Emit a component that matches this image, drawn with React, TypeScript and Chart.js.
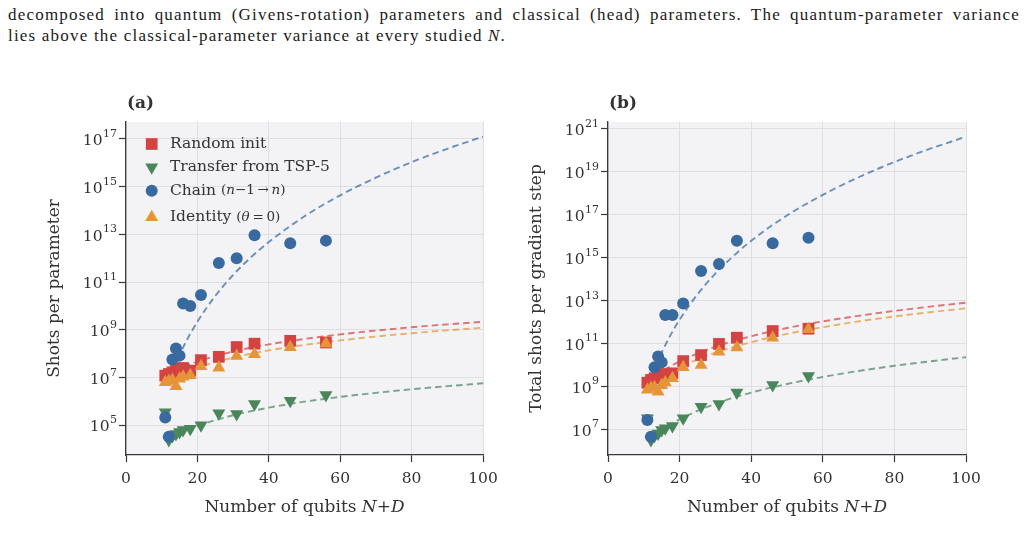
import React, { useEffect, useRef } from 'react';
import { Chart, registerables } from 'chart.js';

Chart.register(...registerables);

// Problem sizes (number of qubits N+D) for every measured configuration
const qubits = [11, 12, 13, 14, 15, 16, 18, 21, 26, 31, 36, 46, 56];

// (a) shots per parameter, stored as log10 values
const randomShotsA = [7.08, 7.15, 7.22, 7.30, 7.38, 7.40, 7.29, 7.73, 7.87, 8.28, 8.42, 8.54, 8.47];
const transferShotsA = [5.55, 4.38, 4.55, 4.63, 4.72, 4.80, 4.86, 5.00, 5.50, 5.47, 5.89, 6.03, 6.27];
const chainShotsA = [5.33, 4.52, 7.76, 8.22, 7.92, 10.10, 10.00, 10.46, 11.80, 12.00, 12.97, 12.63, 12.74];
const identityShotsA = [6.80, 6.86, 6.90, 6.64, 6.95, 7.03, 7.10, 7.48, 7.41, 7.90, 7.98, 8.27, 8.43];

// (b) total shots per gradient step, stored as log10 values
const randomShotsB = [9.17, 9.30, 9.38, 9.45, 9.49, 9.58, 9.61, 10.18, 10.46, 10.98, 11.27, 11.58, 11.69];
const transferShotsB = [7.51, 6.50, 6.70, 6.81, 6.97, 7.05, 7.15, 7.51, 8.05, 8.18, 8.72, 9.07, 9.49];
const chainShotsB = [7.43, 6.65, 9.89, 10.39, 10.12, 12.33, 12.33, 12.87, 14.38, 14.71, 15.79, 15.67, 15.93];
const identityShotsB = [8.84, 8.92, 8.96, 8.75, 9.05, 9.18, 9.38, 9.89, 10.00, 10.62, 10.81, 11.27, 11.66];

// Power-law fit curves (log10), sampled along N+D
const chainFitX = [14.5, 17, 20, 25, 30, 35, 40, 50, 60, 70, 80, 90, 100];
const chainFitA = [7.79, 8.56, 9.34, 10.42, 11.30, 12.04, 12.68, 13.76, 14.64, 15.38, 16.03, 16.59, 17.10];
const chainFitB = [10.41, 11.25, 12.11, 13.29, 14.26, 15.07, 15.79, 16.97, 17.93, 18.75, 19.46, 20.08, 20.64];

const baseFitX = [11, 15, 20, 30, 40, 50, 60, 70, 80, 90, 100];
const randomFitA = [7.05, 7.37, 7.67, 8.09, 8.39, 8.62, 8.81, 8.97, 9.11, 9.23, 9.34];
const identityFitA = [6.80, 7.12, 7.42, 7.84, 8.14, 8.37, 8.56, 8.72, 8.86, 8.98, 9.09];
const randomFitB = [9.15, 9.68, 10.16, 10.85, 11.34, 11.72, 12.03, 12.29, 12.52, 12.72, 12.90];
const identityFitB = [8.85, 9.38, 9.87, 10.57, 11.06, 11.45, 11.76, 12.03, 12.26, 12.46, 12.64];

const transferFitX = [12, 15, 20, 30, 40, 50, 60, 70, 80, 90, 100];
const transferFitA = [4.41, 4.65, 4.97, 5.42, 5.74, 5.99, 6.19, 6.36, 6.51, 6.64, 6.76];
const transferFitB = [6.55, 6.95, 7.46, 8.19, 8.71, 9.11, 9.44, 9.72, 9.96, 10.17, 10.36];

// Axis ticks
const xTicks = [0, 20, 40, 60, 80, 100];
const yExponentsA = [5, 7, 9, 11, 13, 15, 17];
const yExponentsB = [7, 9, 11, 13, 15, 17, 19, 21];

const FONT = "'DejaVu Serif', serif";
const TEXT = '#333333';
const SPINE = '#3a3a3a';
const GRID = '#dedee3';
const PANEL_BG = '#f3f3f6';

const RED = 'rgb(212,67,66)';
const GREEN = 'rgb(74,134,92)';
const BLUE = 'rgb(56,106,160)';
const ORANGE = 'rgb(229,149,56)';
const RED_FIT = 'rgba(212,67,66,0.72)';
const GREEN_FIT = 'rgba(74,134,92,0.72)';
const BLUE_FIT = 'rgba(56,106,160,0.72)';
const ORANGE_FIT = 'rgba(229,149,56,0.72)';

type Run = { text: string; font: string };

function drawRuns(ctx: CanvasRenderingContext2D, runs: Run[], x: number, y: number, align: 'left' | 'center') {
  const widths = runs.map((r) => {
    ctx.font = r.font;
    return ctx.measureText(r.text).width;
  });
  const total = widths.reduce((a, b) => a + b, 0);
  let cx = align === 'center' ? x - total / 2 : x;
  ctx.textAlign = 'left';
  runs.forEach((r, i) => {
    ctx.font = r.font;
    ctx.fillText(r.text, cx, y);
    cx += widths[i];
  });
}

function drawMarker(ctx: CanvasRenderingContext2D, kind: string, x: number, y: number, color: string) {
  ctx.fillStyle = color;
  ctx.beginPath();
  if (kind === 'rect') {
    const s = 5.85;
    ctx.rect(x - s, y - s, 2 * s, 2 * s);
  } else if (kind === 'circle') {
    ctx.arc(x, y, 6, 0, Math.PI * 2);
  } else if (kind === 'up') {
    const r = 7.5;
    ctx.moveTo(x, y - r);
    ctx.lineTo(x + r * 0.866, y + r / 2);
    ctx.lineTo(x - r * 0.866, y + r / 2);
    ctx.closePath();
  } else if (kind === 'down') {
    const r = 7.5;
    ctx.moveTo(x, y + r);
    ctx.lineTo(x + r * 0.866, y - r / 2);
    ctx.lineTo(x - r * 0.866, y - r / 2);
    ctx.closePath();
  }
  ctx.fill();
}

type PanelProps = {
  left: number;
  label: string;
  yTitle: string;
  yExponents: number[];
  yRange: [number, number];
  padRight: number;
  random: number[];
  transfer: number[];
  chain: number[];
  identity: number[];
  randomFit: number[];
  transferFit: number[];
  chainFit: number[];
  identityFit: number[];
  legend: boolean;
};

function Panel(p: PanelProps) {
  const ref = useRef<HTMLCanvasElement>(null);

  useEffect(() => {
    const canvas = ref.current;
    if (!canvas) return;

    const pts = (xs: number[], logs: number[]) => xs.map((x, i) => ({ x, y: Math.pow(10, logs[i]) }));

    const scatter = (data: number[], color: string, style: string, radius: number, rotation: number, order: number) => ({
      label: '',
      data: pts(qubits, data),
      showLine: false,
      pointStyle: style,
      pointRadius: radius,
      pointRotation: rotation,
      pointBackgroundColor: color,
      pointBorderColor: color,
      pointBorderWidth: 0,
      order,
    });

    const fit = (xs: number[], data: number[], color: string, order: number) => ({
      label: '',
      data: pts(xs, data),
      showLine: true,
      borderColor: color,
      borderWidth: 1.9,
      borderDash: [6.5, 4],
      pointRadius: 0,
      tension: 0.4,
      cubicInterpolationMode: 'monotone',
      fill: false,
      order,
    });

    const textPlugin = {
      id: 'panelText',
      beforeDraw(chart: any) {
        const { ctx, chartArea: a } = chart;
        ctx.save();
        ctx.fillStyle = PANEL_BG;
        ctx.fillRect(a.left, a.top, a.right - a.left, a.bottom - a.top);
        ctx.restore();
      },
      afterDraw(chart: any) {
        const { ctx, chartArea: a } = chart;
        const yScale = chart.scales.y;
        ctx.save();
        ctx.fillStyle = TEXT;

        // panel label
        ctx.textBaseline = 'middle';
        ctx.font = `bold 17px ${FONT}`;
        ctx.textAlign = 'left';
        ctx.fillText(p.label, a.left + 1, a.top - 18.5);

        // y tick labels as 10 with a raised exponent
        ctx.textBaseline = 'alphabetic';
        p.yExponents.forEach((e) => {
          const y = yScale.getPixelForValue(Math.pow(10, e));
          const base = '10';
          const exp = String(e);
          ctx.font = `15.5px ${FONT}`;
          const w1 = ctx.measureText(base).width;
          ctx.font = `11px ${FONT}`;
          const w2 = ctx.measureText(exp).width;
          const right = a.left - 9.5;
          const x0 = right - w1 - w2;
          ctx.font = `15.5px ${FONT}`;
          ctx.fillText(base, x0, y + 6.2);
          ctx.font = `11px ${FONT}`;
          ctx.fillText(exp, x0 + w1 + 0.5, y - 2);
        });

        // x axis title
        ctx.textBaseline = 'alphabetic';
        drawRuns(
          ctx,
          [
            { text: 'Number of qubits ', font: `17px ${FONT}` },
            { text: 'N', font: `italic 17px ${FONT}` },
            { text: '+', font: `17px ${FONT}` },
            { text: 'D', font: `italic 17px ${FONT}` },
          ],
          (a.left + a.right) / 2,
          a.bottom + 56.5,
          'center'
        );

        // y axis title
        ctx.save();
        ctx.translate(a.left - 71, (a.top + a.bottom) / 2);
        ctx.rotate(-Math.PI / 2);
        ctx.textBaseline = 'middle';
        drawRuns(ctx, [{ text: p.yTitle, font: `17px ${FONT}` }], 0, 0, 'center');
        ctx.restore();

        // legend
        if (p.legend) {
          const mx = a.left + 25.7;
          const tx = a.left + 44;
          const big = `15.5px ${FONT}`;
          const small = `13.5px ${FONT}`;
          const smallIt = `italic 13.5px ${FONT}`;
          const rows: { kind: string; color: string; dy: number; runs: Run[] }[] = [
            { kind: 'rect', color: RED, dy: 22, runs: [{ text: 'Random init', font: big }] },
            { kind: 'down', color: GREEN, dy: 45.3, runs: [{ text: 'Transfer from TSP-5', font: big }] },
            {
              kind: 'circle',
              color: BLUE,
              dy: 68.7,
              runs: [
                { text: 'Chain ', font: big },
                { text: '(', font: small },
                { text: 'n', font: smallIt },
                { text: '\u22121\u2009\u2192\u2009', font: small },
                { text: 'n', font: smallIt },
                { text: ')', font: small },
              ],
            },
            {
              kind: 'up',
              color: ORANGE,
              dy: 95.3,
              runs: [
                { text: 'Identity ', font: big },
                { text: '(', font: small },
                { text: '\u03b8', font: smallIt },
                { text: '\u2009=\u20090)', font: small },
              ],
            },
          ];
          rows.forEach((r) => {
            const y = a.top + r.dy;
            drawMarker(ctx, r.kind, mx, y, r.color);
            ctx.fillStyle = TEXT;
            ctx.textBaseline = 'middle';
            drawRuns(ctx, r.runs, tx, y, 'left');
          });
        }
        ctx.restore();
      },
    };

    const chart = new Chart(canvas, {
      type: 'scatter',
      data: {
        datasets: [
          fit(baseFitX, p.randomFit, RED_FIT, 14),
          fit(transferFitX, p.transferFit, GREEN_FIT, 13),
          fit(chainFitX, p.chainFit, BLUE_FIT, 12),
          fit(baseFitX, p.identityFit, ORANGE_FIT, 11),
          scatter(p.random, RED, 'rect', 8.3, 0, 4),
          scatter(p.transfer, GREEN, 'triangle', 7.5, 180, 3),
          scatter(p.chain, BLUE, 'circle', 6, 0, 2),
          scatter(p.identity, ORANGE, 'triangle', 7.5, 0, 1),
        ] as any,
      },
      options: {
        animation: false,
        responsive: false,
        events: [],
        layout: { padding: { top: 37, right: p.padRight, bottom: 0, left: 0 } },
        plugins: {
          legend: { display: false },
          tooltip: { enabled: false },
          title: { display: false },
        },
        scales: {
          x: {
            type: 'linear',
            min: 0,
            max: 100,
            afterBuildTicks: (s: any) => {
              s.ticks = xTicks.map((v) => ({ value: v }));
            },
            afterFit: (s: any) => {
              s.height = 75;
            },
            grid: { color: GRID, lineWidth: 1, tickColor: SPINE, tickLength: 7, tickWidth: 1.2, drawTicks: true },
            border: { display: true, color: SPINE, width: 1.3 },
            ticks: { color: TEXT, font: { family: FONT, size: 15.5 }, padding: 8, maxRotation: 0, autoSkip: false },
          },
          y: {
            type: 'logarithmic',
            min: Math.pow(10, p.yRange[0]),
            max: Math.pow(10, p.yRange[1]),
            afterBuildTicks: (s: any) => {
              s.ticks = p.yExponents.map((e) => ({ value: Math.pow(10, e) }));
            },
            afterFit: (s: any) => {
              s.width = 96;
            },
            grid: { color: GRID, lineWidth: 1, tickColor: SPINE, tickLength: 7, tickWidth: 1.2, drawTicks: true },
            border: { display: true, color: SPINE, width: 1.3 },
            ticks: { display: false },
          },
        },
      } as any,
      plugins: [textPlugin],
    });

    return () => chart.destroy();
  }, []);

  return (
    <canvas
      ref={ref}
      width={480}
      height={445}
      style={{ position: 'absolute', left: p.left, top: 85, width: 480, height: 445 }}
    />
  );
}

export default function App() {
  return (
    <div
      style={{
        position: 'absolute',
        left: 0,
        top: 0,
        width: 1027,
        height: 559,
        background: '#ffffff',
        overflow: 'hidden',
      }}
    >
      <div
        style={{
          position: 'absolute',
          left: 8,
          top: 4,
          width: 1012,
          fontFamily: "'Liberation Serif', serif",
          fontSize: 17,
          lineHeight: '21px',
          letterSpacing: '1.2px',
          color: '#1a1a1a',
        }}
      >
        <div style={{ textAlign: 'justify', textAlignLast: 'justify' }}>
          decomposed into quantum (Givens-rotation) parameters and classical (head) parameters. The quantum-parameter variance
        </div>
        <div>
          lies above the classical-parameter variance at every studied <i>N</i>.
        </div>
      </div>
      <Panel
        left={30}
        label="(a)"
        yTitle="Shots per parameter"
        yExponents={yExponentsA}
        yRange={[3.755, 17.712]}
        padRight={27}
        random={randomShotsA}
        transfer={transferShotsA}
        chain={chainShotsA}
        identity={identityShotsA}
        randomFit={randomFitA}
        transferFit={transferFitA}
        chainFit={chainFitA}
        identityFit={identityFitA}
        legend={true}
      />
      <Panel
        left={512}
        label="(b)"
        yTitle="Total shots per gradient step"
        yExponents={yExponentsB}
        yRange={[5.802, 21.326]}
        padRight={26}
        random={randomShotsB}
        transfer={transferShotsB}
        chain={chainShotsB}
        identity={identityShotsB}
        randomFit={randomFitB}
        transferFit={transferFitB}
        chainFit={chainFitB}
        identityFit={identityFitB}
        legend={false}
      />
    </div>
  );
}
